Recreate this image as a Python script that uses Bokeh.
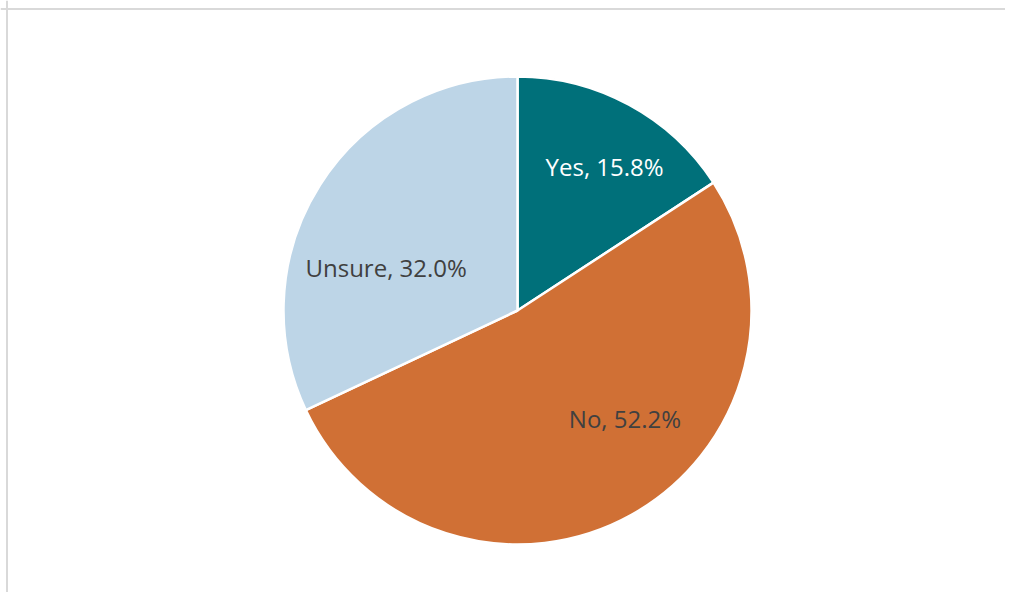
import math
from bokeh.plotting import figure
from bokeh.models import Range1d, ColumnDataSource, Span
from bokeh.core.properties import value
from bokeh.embed import file_html
from bokeh.resources import INLINE

categories = ["Yes", "No", "Unsure"]
shares = [15.8, 52.2, 32.0]
colors = ["#00707A", "#D07035", "#BDD5E7"]
label_colors = ["#FFFFFF", "#404040", "#404040"]
# label placement style: (radius fraction, angle nudge in degrees)
label_place = [(0.72, -2.7), (0.65, 15.8), (0.59, 14.4)]

W, H = 1005, 592
p = figure(width=W, height=H, output_backend="svg", toolbar_location=None,
           x_range=Range1d(0, W), y_range=Range1d(0, H), min_border=0,
           outline_line_color=None, background_fill_color="white",
           border_fill_color="white")
p.axis.visible = False
p.grid.visible = False

cx, cy, R = 517, H - 310, 234

total = sum(shares)
starts, ends, mids = [], [], []
cum = 0.0
for s in shares:
    a0 = math.pi / 2 - 2 * math.pi * cum / total
    cum += s
    a1 = math.pi / 2 - 2 * math.pi * cum / total
    starts.append(a0)
    ends.append(a1)
    mids.append((a0 + a1) / 2)

src = ColumnDataSource(dict(cat=categories, share=shares, start=starts, end=ends, color=colors))
p.wedge(x=cx, y=cy, radius=R, start_angle="start", end_angle="end", direction="clock",
        fill_color="color", line_color="white", line_width=2.5, source=src)

lx, ly, texts = [], [], []
for c, s, m, (rf, nud) in zip(categories, shares, mids, label_place):
    ang = m + math.radians(nud)
    lx.append(cx + rf * R * math.cos(ang))
    ly.append(cy + rf * R * math.sin(ang))
    texts.append(f"{c}, {s:.1f}%")
lsrc = ColumnDataSource(dict(x=lx, y=ly, t=texts, c=label_colors))
p.text(x="x", y="y", text="t", text_color="c", source=lsrc,
       text_font=value("Open Sans"), text_font_size="24px",
       text_align="center", text_baseline="middle")

# chart frame (left and top edges visible in the window)
p.add_layout(Span(location=6.5, dimension="height", line_color="#D9D9D9", line_width=2))
p.add_layout(Span(location=H - 8.5, dimension="width", line_color="#D9D9D9", line_width=2))

open("out.html", "w").write(file_html(p, INLINE))
